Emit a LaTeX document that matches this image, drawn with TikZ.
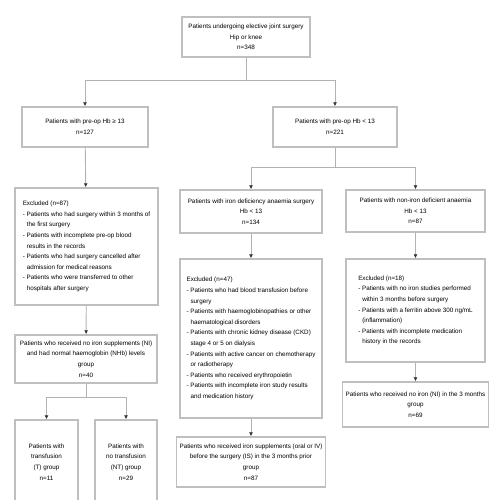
\documentclass[tikz,border=0pt]{standalone}
\usepackage{fontspec}
\setmainfont{Liberation Sans}
\usetikzlibrary{arrows.meta}

\begin{document}
\begin{tikzpicture}[x=1pt, y=-1pt, every node/.style={font=\fontsize{6.3}{10.6}\selectfont}]
  \tikzstyle{flowbox}=[draw=gray!50, line width=1.4pt, align=center, inner sep=3pt]
  \tikzstyle{exclbox}=[flowbox, align=left]
  \tikzstyle{flow}=[draw=gray!60, line width=0.9pt, -{Latex[length=4pt, width=4pt, color=black!80]}]
  \tikzstyle{link}=[draw=gray!60, line width=0.9pt]
  \useasboundingbox (0,0) rectangle (500,500);
  % top level
  \node[flowbox, minimum width=128pt, minimum height=40pt] (total) at (246,37)
    {Patients undergoing elective joint surgery\\Hip or knee\\n=348};
  \node[flowbox, minimum width=126pt, minimum height=40pt] (normal) at (85,127)
    {Patients with pre-op Hb ≥ 13\\n=127};
  \node[flowbox, minimum width=124pt, minimum height=40pt] (anaemic) at (335,127)
    {Patients with pre-op Hb < 13\\n=221};
  % left branch
  \node[exclbox, minimum width=143pt, minimum height=117pt] (exclnormal) at (86.5,246.5)
    {Excluded (n=87)\\
     - Patients who had surgery within 3 months of\\
     \hspace*{4pt}the first surgery\\
     - Patients with incomplete pre-op blood\\
     \hspace*{4pt}results in the records\\
     - Patients who had surgery cancelled after\\
     \hspace*{4pt}admission for medical reasons\\
     - Patients who were transferred to other\\
     \hspace*{4pt}hospitals after surgery};
  \node[flowbox, minimum width=142pt, minimum height=48pt] (nohb) at (86,359)
    {Patients who received no iron supplements (NI)\\and had normal haemoglobin (NHb) levels\\group\\n=40};
  \node[flowbox, minimum width=63pt, minimum height=84pt] (transf) at (46.5,462)
    {Patients with\\transfusion\\(T) group\\n=11};
  \node[flowbox, minimum width=62pt, minimum height=84pt] (notransf) at (126,462)
    {Patients with\\no transfusion\\(NT) group\\n=29};
  % middle branch
  \node[flowbox, minimum width=142pt, minimum height=43pt] (ida) at (251,211.5)
    {Patients with iron deficiency anaemia surgery\\Hb < 13\\n=134};
  \node[exclbox, minimum width=142pt, minimum height=159pt] (exclida) at (251,338.5)
    {Excluded (n=47)\\
     - Patients who had blood transfusion before\\
     \hspace*{4pt}surgery\\
     - Patients with haemoglobinopathies or other\\
     \hspace*{4pt}haematological disorders\\
     - Patients with chronic kidney disease (CKD)\\
     \hspace*{4pt}stage 4 or 5 on dialysis\\
     - Patients with active cancer on chemotherapy\\
     \hspace*{4pt}or radiotherapy\\
     - Patients who received erythropoietin\\
     - Patients with incomplete iron study results\\
     \hspace*{4pt}and medication history};
  \node[flowbox, minimum width=142pt, minimum height=50pt] (iron) at (251,462)
    {Patients who received iron supplements (oral or IV)\\before the surgery (IS) in the 3 months prior\\group\\n=87};
  % right branch
  \node[flowbox, minimum width=139pt, minimum height=42pt] (nida) at (415.5,211)
    {Patients with non-iron deficient anaemia\\Hb < 13\\n=87};
  \node[exclbox, minimum width=139pt, minimum height=103pt] (exclnida) at (415.5,310.5)
    {Excluded (n=18)\\
     - Patients with no iron studies performed\\
     \hspace*{4pt}within 3 months before surgery\\
     - Patients with a ferritin above 300 ng/mL\\
     \hspace*{4pt}(inflammation)\\
     - Patients with incomplete medication\\
     \hspace*{4pt}history in the records};
  \node[flowbox, minimum width=139pt, minimum height=45pt] (noiron) at (415.5,404.5)
    {Patients who received no iron (NI) in the 3 months\\group\\n=69};
  % junctions
  \coordinate (split1) at (246,80);
  \coordinate (split2) at (335,167);
  \coordinate (split3) at (86,397);
  % connectors
  \draw[link] (total) -- (split1);
  \draw[flow] (split1) -| (normal.north);
  \draw[flow] (split1) -| (anaemic.north);
  \draw[flow] (normal) -- (exclnormal);
  \draw[flow] (exclnormal) -- (nohb);
  \draw[link] (nohb) -- (split3);
  \draw[flow] (split3) -| (transf.north);
  \draw[flow] (split3) -| (notransf.north);
  \draw[link] (anaemic) -- (split2);
  \draw[flow] (split2) -| (ida.north);
  \draw[flow] (split2) -| (nida.north);
  \draw[flow] (ida) -- (exclida);
  \draw[flow] (exclida) -- (iron);
  \draw[flow] (nida) -- (exclnida);
  \draw[flow] (exclnida) -- (noiron);
\end{tikzpicture}
\end{document}
